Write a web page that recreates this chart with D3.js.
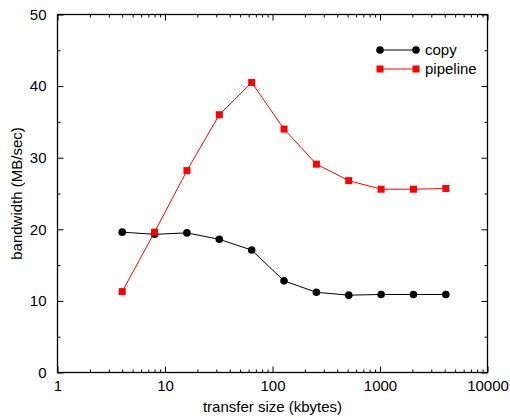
<!DOCTYPE html>
<html>
<head>
<meta charset="utf-8">
<script src="https://cdn.jsdelivr.net/npm/d3@7"></script>
<style>
  body { margin: 0; background: #fff; }
  svg text { font-family: "Liberation Sans", Arial, Helvetica, sans-serif; fill: #000; }
  .axis path { display: none; }
  .axis line { stroke: #000; stroke-width: 1; }
</style>
</head>
<body>
<div id="chart"></div>
<script>
// tamanhos de transferência (kbytes) e largura de banda (MB/sec)
const sizes = [4, 8, 16, 32, 64, 128, 256, 512, 1024, 2048, 4096];
const copyBw = [19.6, 19.3, 19.5, 18.6, 17.1, 12.8, 11.2, 10.8, 10.9, 10.9, 10.9];
const pipelineBw = [11.3, 19.6, 28.2, 36.0, 40.5, 34.0, 29.1, 26.8, 25.6, 25.6, 25.7];

const xTicks = [1, 10, 100, 1000, 10000];
const yTicks = [0, 10, 20, 30, 40, 50];
const seriesNames = ["copy", "pipeline"];

const width = 510, height = 418;
const margin = { top: 14.5, right: 22.5, bottom: 45.5, left: 57.5 };

const svg = d3.select("#chart")
    .append("svg")
    .attr("width", width)
    .attr("height", height);

const x = d3.scaleLog()
    .domain([1, 10000])
    .range([margin.left, width - margin.right]);

const y = d3.scaleLinear()
    .domain([0, 50])
    .range([height - margin.bottom, margin.top]);

// ticks menores do eixo log (2..9 em cada década)
const minorX = [];
for (let d = 1; d < 10000; d *= 10) {
    for (let k = 2; k <= 9; k++) minorX.push(d * k);
}
const minorY = [5, 15, 25, 35, 45];

const fontSize = 15;

// eixo X (embaixo) com rótulos
svg.append("g")
    .attr("class", "axis")
    .attr("transform", `translate(0,${y(0)})`)
    .call(d3.axisBottom(x).tickValues(xTicks).tickFormat(d3.format("d")).tickSize(-6).tickPadding(8))
    .call(g => g.selectAll("text").attr("font-size", fontSize).attr("font-family", null));

svg.append("g")
    .attr("class", "axis")
    .attr("transform", `translate(0,${y(0)})`)
    .call(d3.axisBottom(x).tickValues(minorX).tickFormat("").tickSize(-3));

// eixo X (topo), só ticks
svg.append("g")
    .attr("class", "axis")
    .attr("transform", `translate(0,${y(50)})`)
    .call(d3.axisTop(x).tickValues(xTicks).tickFormat("").tickSize(-6));

svg.append("g")
    .attr("class", "axis")
    .attr("transform", `translate(0,${y(50)})`)
    .call(d3.axisTop(x).tickValues(minorX).tickFormat("").tickSize(-3));

// eixo Y (esquerda) com rótulos
svg.append("g")
    .attr("class", "axis")
    .attr("transform", `translate(${x(1)},0)`)
    .call(d3.axisLeft(y).tickValues(yTicks).tickSize(-6).tickPadding(11))
    .call(g => g.selectAll("text").attr("font-size", fontSize).attr("font-family", null));

svg.append("g")
    .attr("class", "axis")
    .attr("transform", `translate(${x(1)},0)`)
    .call(d3.axisLeft(y).tickValues(minorY).tickFormat("").tickSize(-3));

// eixo Y (direita), só ticks
svg.append("g")
    .attr("class", "axis")
    .attr("transform", `translate(${x(10000)},0)`)
    .call(d3.axisRight(y).tickValues(yTicks).tickFormat("").tickSize(-6));

svg.append("g")
    .attr("class", "axis")
    .attr("transform", `translate(${x(10000)},0)`)
    .call(d3.axisRight(y).tickValues(minorY).tickFormat("").tickSize(-3));

// moldura
svg.append("rect")
    .attr("x", x(1))
    .attr("y", y(50))
    .attr("width", x(10000) - x(1))
    .attr("height", y(0) - y(50))
    .attr("fill", "none")
    .attr("stroke", "#000")
    .attr("stroke-width", 1.3);

// títulos dos eixos
svg.append("text")
    .attr("x", (x(1) + x(10000)) / 2)
    .attr("y", 412)
    .attr("text-anchor", "middle")
    .attr("font-size", fontSize)
    .text("transfer size (kbytes)");

svg.append("text")
    .attr("transform", `translate(22,${(y(0) + y(50)) / 2}) rotate(-90)`)
    .attr("text-anchor", "middle")
    .attr("font-size", fontSize)
    .text("bandwidth (MB/sec)");

const line = d3.line()
    .x(d => x(d[0]))
    .y(d => y(d[1]));

const copyData = sizes.map((s, i) => [s, copyBw[i]]);
const pipeData = sizes.map((s, i) => [s, pipelineBw[i]]);

// série copy
svg.append("path")
    .datum(copyData)
    .attr("d", line)
    .attr("fill", "none")
    .attr("stroke", "#000")
    .attr("stroke-width", 1);

svg.append("g").selectAll("circle")
    .data(copyData)
    .join("circle")
    .attr("cx", d => x(d[0]))
    .attr("cy", d => y(d[1]))
    .attr("r", 3.8)
    .attr("fill", "#000");

// série pipeline
svg.append("path")
    .datum(pipeData)
    .attr("d", line)
    .attr("fill", "none")
    .attr("stroke", "#ff0000")
    .attr("stroke-width", 1);

const sq = 7;
svg.append("g").selectAll("rect")
    .data(pipeData)
    .join("rect")
    .attr("x", d => x(d[0]) - sq / 2)
    .attr("y", d => y(d[1]) - sq / 2)
    .attr("width", sq)
    .attr("height", sq)
    .attr("fill", "#ff0000");

// legenda
const legend = svg.append("g");
const legY = [50, 69];
const lx0 = 380, lx1 = 416;

legend.append("line")
    .attr("x1", lx0).attr("x2", lx1)
    .attr("y1", legY[0]).attr("y2", legY[0])
    .attr("stroke", "#000");
[lx0, lx1].forEach(cx => legend.append("circle")
    .attr("cx", cx).attr("cy", legY[0]).attr("r", 3.8).attr("fill", "#000"));

legend.append("line")
    .attr("x1", lx0).attr("x2", lx1)
    .attr("y1", legY[1]).attr("y2", legY[1])
    .attr("stroke", "#ff0000");
[lx0, lx1].forEach(cx => legend.append("rect")
    .attr("x", cx - sq / 2).attr("y", legY[1] - sq / 2)
    .attr("width", sq).attr("height", sq).attr("fill", "#ff0000"));

seriesNames.forEach((name, i) => {
    legend.append("text")
        .attr("x", 425)
        .attr("y", legY[i] + 5)
        .attr("font-size", fontSize)
        .text(name);
});
</script>
</body>
</html>
